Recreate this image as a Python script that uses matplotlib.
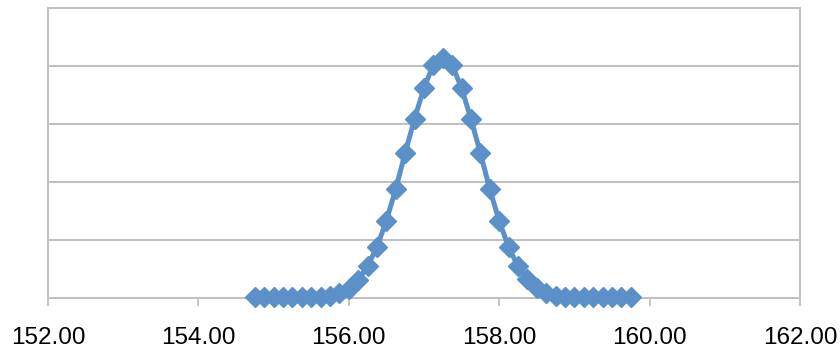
import matplotlib
matplotlib.use("Agg")
import matplotlib.pyplot as plt
import numpy as np

x_vals = [154.750, 154.875, 155.000, 155.125, 155.250, 155.375, 155.500,
          155.625, 155.750, 155.875, 156.000, 156.125, 156.250, 156.375,
          156.500, 156.625, 156.750, 156.875, 157.000, 157.125, 157.250,
          157.375, 157.500, 157.625, 157.750, 157.875, 158.000, 158.125,
          158.250, 158.375, 158.500, 158.625, 158.750, 158.875, 159.000,
          159.125, 159.250, 159.375, 159.500, 159.625, 159.750]
y_vals = [0.01, 0.01, 0.01, 0.01, 0.01, 0.01, 0.01,
          0.02, 0.04, 0.08, 0.15, 0.31, 0.55, 0.88,
          1.33, 1.88, 2.50, 3.09, 3.62, 4.02, 4.14,
          4.02, 3.62, 3.09, 2.50, 1.88, 1.33, 0.88,
          0.55, 0.33, 0.18, 0.09, 0.04, 0.02, 0.01,
          0.01, 0.01, 0.01, 0.01, 0.01, 0.01]
x_ticks = [152, 154, 156, 158, 160, 162]

blue = '#5B90C9'
grid = '#BFBFBF'

fig = plt.figure(figsize=(8.4, 3.51), dpi=100)
ax = fig.add_axes([0.0571, 0.151, 0.8952, 0.826])

ax.plot(x_vals, y_vals, color=blue, linewidth=3.6, marker='D',
        markersize=10.5, markerfacecolor=blue, markeredgecolor=blue,
        clip_on=False, zorder=3)

ax.set_xlim(152, 162)
ax.set_ylim(0, 5)
ax.set_xticks(x_ticks)
ax.set_xticklabels([f'{t:.2f}' for t in x_ticks], fontfamily='Liberation Sans', fontsize=17.5)
ax.set_yticks([1, 2, 3, 4, 5])
ax.set_yticklabels([])
ax.tick_params(axis='y', length=0)
ax.tick_params(axis='x', direction='out', length=6, width=1.3, color=grid, pad=15)

ax.grid(axis='y', color=grid, linewidth=1.4)
ax.set_axisbelow(True)
for s in ax.spines.values():
    s.set_color(grid)
    s.set_linewidth(1.4)

fig.savefig('out.png', dpi=100)
